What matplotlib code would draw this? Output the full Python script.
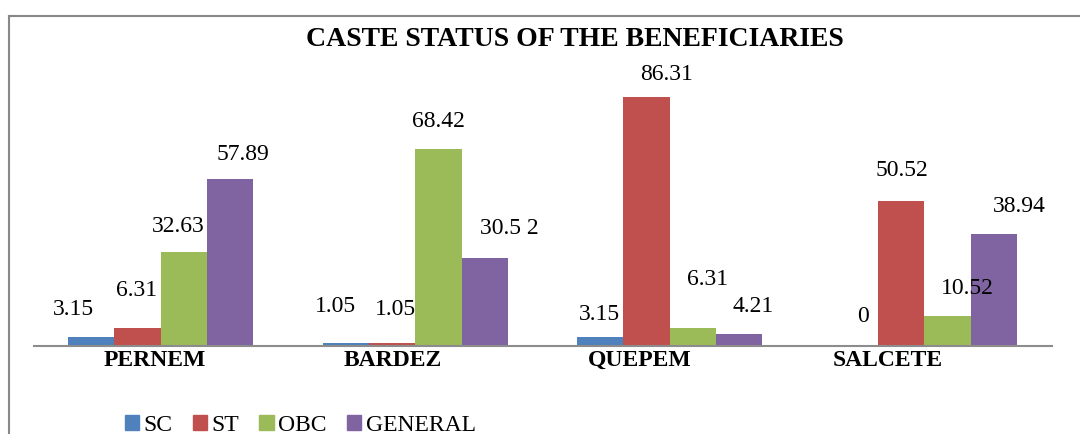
import matplotlib.pyplot as plt
import matplotlib.transforms as mtransforms
from matplotlib.lines import Line2D
from matplotlib.patches import Patch
import numpy as np

plt.rcParams['font.family'] = ['Liberation Serif', 'DejaVu Serif']

# data
talukas = ['PERNEM', 'BARDEZ', 'QUEPEM', 'SALCETE']
castes = ['SC', 'ST', 'OBC', 'GENERAL']
sc = [3.15, 1.05, 3.15, 0]
st = [6.31, 1.05, 86.31, 50.52]
obc = [32.63, 68.42, 6.31, 10.52]
general = [57.89, 30.52, 4.21, 38.94]
series = [sc, st, obc, general]
# value labels as printed on the original chart
labels = [
    ['3.15', '1.05', '3.15', '0'],
    ['6.31', '1.05', '86.31', '50.52'],
    ['32.63', '68.42', '6.31', '10.52'],
    ['57.89', '30.5 2', '4.21', '38.94'],
]

colors = ['#4F81BD', '#C0504D', '#9BBB59', '#8064A2']

# label nudges in pixels (dx, up) per series / category
nudge = [
    [(-18, 27), (-10, 36), (-1, 22), (8, 29)],
    [(-1, 37), (3, 33), (20, 23), (1, 30)],
    [(-6, 26), (0, 27), (15, 48), (20, 27)],
    [(13, 25), (25, 30), (14, 27), (26, 27)],
]
tick_shift = [-6, -22, -30, -37]

fig = plt.figure(figsize=(10.8, 4.34), dpi=100)
ax = fig.add_axes([33.5 / 1080, 88 / 434, 1018 / 1080, 288 / 434])

x = np.arange(len(talukas))
w = 0.182
for j, vals in enumerate(series):
    pos = x + (j - 1.5) * w
    ax.bar(pos, vals, w, color=colors[j], zorder=2)
    for i, v in enumerate(vals):
        dx, dy = nudge[j][i]
        ax.annotate(labels[j][i], xy=(pos[i], v), xytext=(dx * 0.72, dy * 0.72),
                    textcoords='offset points', ha='center', va='center',
                    fontsize=17, color='black')

ax.set_xlim(-0.5, 3.5)
ax.set_ylim(0, 100)
ax.set_yticks([])
ax.set_xticks(x)
ax.set_xticklabels(talukas, fontsize=17, fontweight='bold')
ax.tick_params(axis='x', length=0, pad=3)
for lab, s in zip(ax.get_xticklabels(), tick_shift):
    lab.set_transform(lab.get_transform() +
                      mtransforms.ScaledTranslation(s / 100, 0, fig.dpi_scale_trans))
for side in ['left', 'right', 'top']:
    ax.spines[side].set_visible(False)
ax.spines['bottom'].set_color('#8c8c8c')
ax.spines['bottom'].set_linewidth(1.5)

fig.text(574.5 / 1080, 1 - 46 / 434, 'CASTE STATUS OF THE BENEFICIARIES',
         ha='center', va='baseline', fontsize=20, fontweight='bold')

# chart border (cropped on right and bottom)
fig.add_artist(Line2D([9 / 1080, 9 / 1080], [0, 1 - 16 / 434], color='#888888', lw=1.5))
fig.add_artist(Line2D([9 / 1080, 1], [1 - 16 / 434, 1 - 16 / 434], color='#888888', lw=1.5))

handles = [Patch(color=c, label=n) for c, n in zip(colors, castes)]
fig.legend(handles=handles, ncol=4, loc='lower left', bbox_to_anchor=(124.7 / 1080, -0.004),
           frameon=False, handlelength=0.6, handleheight=0.6, handletextpad=0.2,
           columnspacing=0.85, borderpad=0, borderaxespad=0, fontsize=17)

fig.savefig('out.png', dpi=100)
